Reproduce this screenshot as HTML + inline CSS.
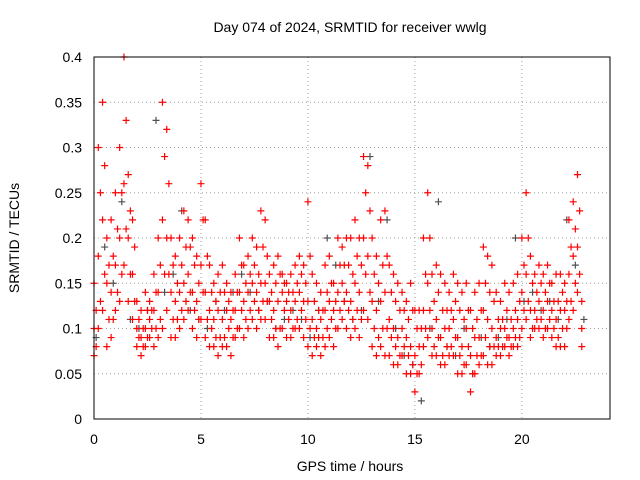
<!DOCTYPE html>
<html><head><meta charset="utf-8"><style>
body{margin:0;background:#fff;}
svg{display:block;font-family:"Liberation Sans",sans-serif;}
</style></head><body>
<svg id="c" width="640" height="480" xmlns="http://www.w3.org/2000/svg"></svg>
<script>
const xTicks=[0,5,10,15,20];
const yTicks=[0,0.05,0.1,0.15,0.2,0.25,0.3,0.35,0.4];
const yTickLabels=["0","0.05","0.1","0.15","0.2","0.25","0.3","0.35","0.4"];
const sampleStep=0.2;
const hiVals=[.15,.3,.35,.2,.22,.25,.3,.4,.27,.22,.13,.12,.14,.13,.16,.2,.35,.32,.2,.18,.2,.23,.22,.2,.18,.26,.22,.17,.15,.16,.17,.15,.14,.16,.2,.17,.18,.2,.19,.23,.22,.16,.17,.18,.16,.15,.16,.17,.18,.17,.24,.16,.15,.14,.17,.18,.15,.2,.19,.2,.2,.22,.2,.29,.28,.2,.18,.22,.23,.17,.16,.15,.14,.13,.15,.12,.12,.2,.25,.16,.17,.16,.15,.14,.16,.15,.14,.15,.12,.14,.15,.19,.18,.17,.14,.13,.15,.14,.15,.16,.2,.25,.18,.16,.17,.16,.17,.15,.16,.16,.15,.22,.24,.27,.13];
const midVals=[.1,.18,.22,.15,.14,.17,.2,.26,.2,.16,.1,.09,.1,.11,.12,.14,.22,.2,.14,.13,.14,.15,.16,.14,.13,.17,.14,.12,.11,.12,.11,.12,.11,.12,.14,.13,.14,.15,.14,.15,.15,.13,.12,.13,.14,.13,.12,.13,.14,.13,.13,.11,.1,.11,.12,.13,.12,.14,.15,.14,.13,.15,.14,.2,.18,.13,.12,.13,.14,.11,.1,.09,.1,.09,.08,.07,.08,.12,.15,.1,.11,.09,.1,.1,.11,.09,.08,.1,.07,.09,.09,.12,.11,.1,.09,.1,.1,.09,.1,.11,.14,.16,.12,.12,.13,.12,.13,.12,.11,.12,.12,.16,.18,.19,.1];
const loVals=[.07,.1,.12,.08,.09,.12,.13,.17,.13,.11,.08,.07,.08,.09,.08,.09,.1,.12,.09,.09,.1,.11,.12,.1,.09,.11,.09,.08,.08,.07,.08,.08,.07,.09,.1,.09,.1,.11,.1,.11,.11,.09,.09,.08,.1,.09,.09,.1,.1,.09,.08,.07,.08,.07,.08,.09,.08,.1,.11,.1,.09,.1,.09,.12,.11,.08,.07,.08,.07,.07,.06,.06,.07,.05,.05,.03,.05,.08,.09,.07,.07,.06,.06,.07,.07,.05,.05,.06,.03,.05,.06,.07,.06,.06,.07,.07,.08,.07,.08,.08,.1,.11,.09,.1,.1,.09,.1,.09,.08,.08,.08,.11,.12,.14,.08];
const offStart=0.1;
const upMidVals=[.12,.25,.28,.17,.18,.21,.25,.33,.23,.19,.11,.1,.12,.12,.14,.17,.29,.26,.17,.15,.17,.19,.19,.17,.15,.22,.18,.14,.13,.14,.14,.13,.12,.14,.17,.15,.16,.17,.16,.19,.18,.14,.15,.16,.15,.14,.14,.15,.16,.15,.18,.13,.12,.12,.14,.15,.13,.17,.17,.17,.16,.18,.17,.25,.23,.16,.15,.17,.18,.14,.13,.12,.12,.11,.12,.1,.1,.16,.2,.13,.14,.12,.12,.12,.13,.12,.11,.12,.1,.11,.12,.15,.14,.13,.11,.11,.12,.11,.12,.13,.17,.2,.15,.14,.15,.14,.15,.13,.13,.14,.13,.19,.21,.23];
const loMidVals=[.08,.13,.16,.11,.11,.14,.16,.21,.16,.13,.09,.08,.09,.1,.1,.11,.16,.16,.11,.11,.12,.13,.14,.12,.11,.14,.11,.1,.09,.09,.09,.1,.09,.1,.12,.11,.12,.13,.12,.13,.13,.11,.1,.1,.12,.11,.1,.11,.12,.11,.1,.09,.09,.09,.1,.11,.1,.12,.13,.12,.11,.12,.11,.16,.14,.1,.09,.1,.1,.09,.08,.07,.08,.07,.06,.05,.06,.1,.12,.08,.09,.07,.08,.08,.09,.07,.06,.08,.05,.07,.07,.09,.08,.08,.08,.08,.09,.08,.09,.09,.12,.13,.1,.11,.11,.1,.11,.1,.09,.1,.1,.13,.15,.16];
const grayStart=0.1, grayStep=0.4;
const grayVals=[.09,.19,.15,.24,.11,.1,.12,.33,.14,.16,.23,.12,.11,.1,.13,.12,.14,.16,.14,.12,.13,.1,.11,.12,.11,.09,.12,.2,.17,.13,.11,.12,.29,.13,.22,.1,.07,.06,.02,.1,.24,.08,.07,.1,.05,.09,.08,.09,.11,.2,.13,.14,.12,.13,.11,.22,.17,.11];

const L=94,R=610,T=57,B=419,XMAX=24.12;
const sx=v=>L+(v/XMAX)*(R-L);
const sy=v=>B-(v/0.4)*(B-T);
const svg=document.getElementById('c');
const NS='http://www.w3.org/2000/svg';
function mk(tag,attrs,parent){const e=document.createElementNS(NS,tag);for(const k in attrs)e.setAttribute(k,attrs[k]);(parent||svg).appendChild(e);return e;}

const grid=mk('g',{});


yTicks.forEach((v,i)=>{
  if(i>0&&i<yTicks.length-1){const l=mk('line',{x1:L,x2:R,y1:sy(v),y2:sy(v),stroke:'#a0a0a0','stroke-dasharray':'1,3'},grid);
  }
  const t=mk('text',{x:L-12,y:sy(v)+5,'text-anchor':'end','font-size':14,fill:'#000'});
  t.textContent=yTickLabels[i];
  
  
});
xTicks.forEach(v=>{
  if(v>0){const l=mk('line',{x1:sx(v),x2:sx(v),y1:T,y2:B,stroke:'#a0a0a0','stroke-dasharray':'1,3'},grid);
  }
  const t=mk('text',{x:sx(v),y:B+25,'text-anchor':'middle','font-size':14,fill:'#000'});
  t.textContent=String(v);
  
  
});

function plus(g,x,y,col){
  const p=mk('path',{d:`M${x-3.5},${y}h7M${x},${y-3.5}v7`,stroke:col,'stroke-width':1.2,fill:'none'},g);
  
  
}
const gg=mk('g',{});


grayVals.forEach((v,i)=>plus(gg,sx(grayStart+i*grayStep),sy(v),'#505050'));
const rg=mk('g',{});


[hiVals,midVals,loVals].forEach(arr=>arr.forEach((v,i)=>plus(rg,sx(i*sampleStep),sy(v),'#ff0000')));
[upMidVals,loMidVals].forEach(arr=>arr.forEach((v,i)=>plus(rg,sx(offStart+i*sampleStep),sy(v),'#ff0000')));

const frame=mk('rect',{x:L,y:T,width:R-L,height:B-T,fill:'none',stroke:'#000','stroke-width':1});



const title=mk('text',{x:350,y:32,'text-anchor':'middle','font-size':14,fill:'#000'});
title.textContent='Day 074 of 2024, SRMTID for receiver wwlg';


const xl=mk('text',{x:350,y:471,'text-anchor':'middle','font-size':14,fill:'#000'});
xl.textContent='GPS time / hours';


const yl=mk('text',{x:19,y:238,'text-anchor':'middle','font-size':14,fill:'#000',transform:'rotate(-90 19 238)'});
yl.textContent='SRMTID / TECUs';


</script>
</body></html>
